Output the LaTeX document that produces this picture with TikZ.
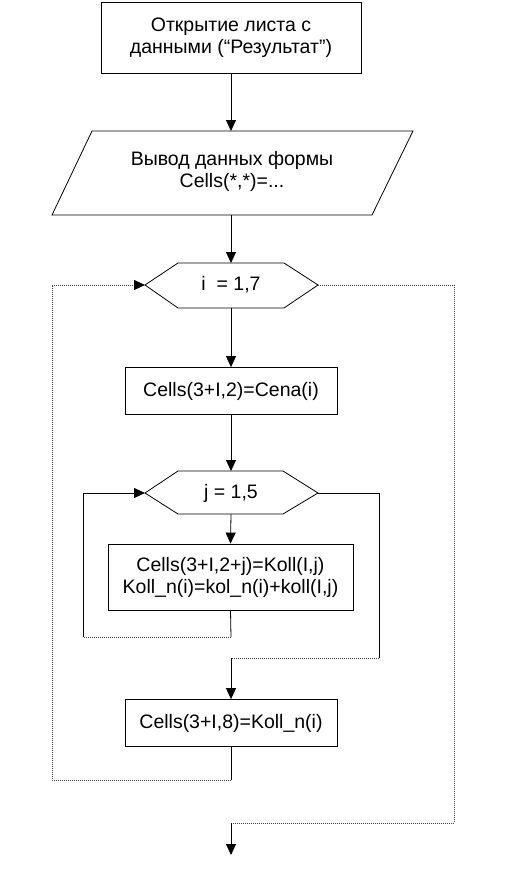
\documentclass[tikz,border=0pt]{standalone}
\usepackage{fontspec}
\setmainfont{Liberation Sans}
\usetikzlibrary{arrows.meta}
\begin{document}
\begin{tikzpicture}[x=1pt,y=-1pt,
  line width=0.8pt,
  every node/.style={font=\fontsize{19.5}{22}\selectfont, align=center, inner sep=0pt},
  box/.style={draw, rectangle},
  flow/.style={draw, -{Triangle[length=11pt,width=10pt]}},
  solidline/.style={draw},
  dotline/.style={draw=black!75, dash pattern=on 1pt off 1pt}
]
\useasboundingbox (0,0) rectangle (507,876);

% top box
\node[box, minimum width=260pt, minimum height=71pt] (open) at (231,37.5)
  {Открытие листа с\\данными (“Результат”)};

% parallelogram
\coordinate (pTL) at (92,131);
\coordinate (pTR) at (413,131);
\coordinate (pBR) at (372,215);
\coordinate (pBL) at (52,215);
\coordinate (pTop) at (231,131);
\coordinate (pBot) at (231,215);
\draw (pTL) -- (pTR) -- (pBR) -- (pBL) -- cycle;
\node (outp) at (232,171) {Вывод данных формы\\Cells(*,*)=...};

% hexagon 1
\coordinate (h1L) at (145,285);
\coordinate (h1R) at (318,285);
\coordinate (h1T) at (231,263);
\coordinate (h1B) at (231,308);
\draw (h1L) -- (178,263) -- (284,263) -- (h1R) -- (284,308) -- (178,308) -- cycle;
\node (loopi) at (231,285) {i\ \ = 1,7};

% box 1
\node[box, minimum width=212pt, minimum height=47pt] (cena) at (231,391)
  {Cells(3+I,2)=Cena(i)};

% hexagon 2
\coordinate (h2L) at (145,493);
\coordinate (h2R) at (318,493);
\coordinate (h2T) at (231,471);
\coordinate (h2B) at (231,514);
\draw (h2L) -- (178,471) -- (283,471) -- (h2R) -- (283,514) -- (178,514) -- cycle;
\node (loopj) at (231,493) {j = 1,5};

% box 2
\node[box, minimum width=245pt, minimum height=66pt] (koll) at (230.5,577)
  {Cells(3+I,2+j)=Koll(I,j)\\Koll\_n(i)=kol\_n(i)+koll(I,j)};

% box 3
\node[box, minimum width=212pt, minimum height=47pt] (sum) at (231,723)
  {Cells(3+I,8)=Koll\_n(i)};

% main flow
\draw[flow] (open.south) -- (pTop);
\draw[flow] (pBot) -- (h1T);
\draw[flow] (h1B) -- (cena.north);
\draw[flow] (cena.south) -- (h2T);
\draw[flow] (h2B) -- (koll.north);

% inner loop return
\coordinate (a1) at (231,637);
\coordinate (a2) at (83,637);
\draw[solidline] (koll.south) -- (a1);
\draw[dotline] (a1) -- (a2);
\draw[flow] (a2) -- (83,493) -- (h2L);

% inner loop exit
\coordinate (b1) at (379,658);
\coordinate (b2) at (231,658);
\draw[solidline] (h2R) -- (379,493) -- (b1);
\draw[dotline] (b1) -- (b2);
\draw[flow] (b2) -- (sum.north);

% outer loop return
\coordinate (c1) at (231,780);
\coordinate (c2) at (52,780);
\draw[solidline] (sum.south) -- (c1);
\draw[dotline] (c1) -- (c2) -- (52,285) -- (137,285);
\draw[flow] (137,285) -- (h1L);

% outer loop exit
\coordinate (d1) at (454,823);
\coordinate (d2) at (231,823);
\coordinate (endp) at (231,855);
\draw[dotline] (h1R) -- (454,285) -- (d1) -- (d2);
\draw[flow] (d2) -- (endp);
\end{tikzpicture}
\end{document}
